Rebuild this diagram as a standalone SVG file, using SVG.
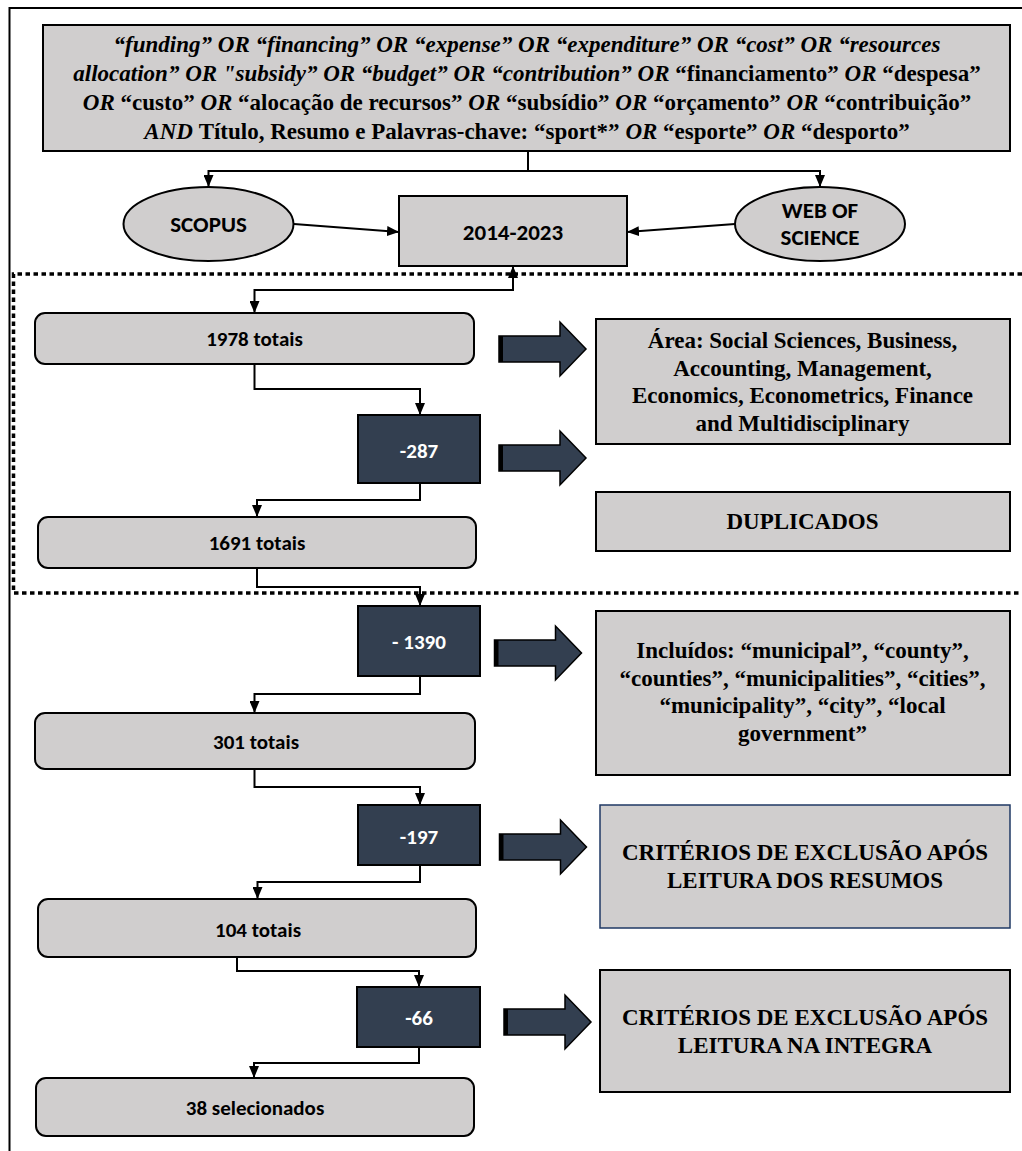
<svg xmlns="http://www.w3.org/2000/svg" width="1022" height="1151" viewBox="0 0 1022 1151">
<style>
.box{fill:#d0cece;stroke:#000;stroke-width:2}
.dk{fill:#333f50;stroke:#000;stroke-width:2}
.tnr{font-family:"Liberation Serif","Times New Roman",serif;font-weight:bold;font-size:23px;fill:#000;text-anchor:middle}
.cal{font-family:Carlito,Calibri,Lato,"Liberation Sans",sans-serif;font-weight:bold;font-size:21px;fill:#000;text-anchor:middle}
.big{font-size:23px}
.w{fill:#fff}
.i{font-style:italic}
.con{fill:none;stroke:#000;stroke-width:2}
.frame{fill:none;stroke:#000;stroke-width:2}
.dot{fill:none;stroke:#000;stroke-width:3.5;stroke-dasharray:4.5 3.5}
</style>
<defs>
<marker id="ah" markerUnits="userSpaceOnUse" viewBox="0 0 12 10" refX="12" refY="5" markerWidth="12" markerHeight="10" orient="auto-start-reverse"><path d="M0,0 L12,5 L0,10 Z" fill="#000"/></marker>
<g id="bigarrow"><path d="M0,-13 H61 V-27 L87,0 L61,27 V13 H0 Z" fill="#333f50" stroke="#000" stroke-width="1.5"/><rect x="0" y="-13" width="4" height="26" fill="#000"/></g>
</defs>

<path class="frame" d="M1022,8 H9.5 V1151"/>
<path class="dot" d="M1022,274 H13.5 V593 H1022"/>

<g id="connectors">
<path class="con" d="M528,151 V171 H208.5 V187" marker-end="url(#ah)"/>
<path class="con" d="M528,171 H820 V187" marker-end="url(#ah)"/>
<path class="con" d="M294,224 L399,232" marker-end="url(#ah)"/>
<path class="con" d="M735,224 L627,232" marker-end="url(#ah)"/>
<path class="con" d="M513,266 V290 H254.5 V313" marker-start="url(#ah)" marker-end="url(#ah)"/>
<path class="con" d="M254.5,364 V389 H420 V415" marker-end="url(#ah)"/>
<path class="con" d="M420,483 V500 H257 V517" marker-end="url(#ah)"/>
<path class="con" d="M257,568 V587 H420 V606" marker-end="url(#ah)"/>
<path class="con" d="M420,676 V694 H254.5 V713" marker-end="url(#ah)"/>
<path class="con" d="M254.5,769 V787 H420 V805" marker-end="url(#ah)"/>
<path class="con" d="M420,865 V882 H257.5 V899" marker-end="url(#ah)"/>
<path class="con" d="M237,957 V971 H419 V987" marker-end="url(#ah)"/>
<path class="con" d="M419,1047 V1063 H254 V1078" marker-end="url(#ah)"/>
<use href="#bigarrow" transform="translate(499,349)"/>
<use href="#bigarrow" transform="translate(499,458)"/>
<use href="#bigarrow" transform="translate(494.5,653)"/>
<use href="#bigarrow" transform="translate(499.5,847)"/>
<use href="#bigarrow" transform="translate(504,1022)"/>
</g>

<g id="query">
<rect class="box" x="43" y="25" width="967" height="126"/>
<text class="tnr" x="527" y="52"><tspan class="i">“funding” OR “financing” OR “expense” OR “expenditure” OR “cost” OR “resources</tspan></text>
<text class="tnr" x="527" y="81"><tspan class="i">allocation” OR "subsidy” OR “budget” OR “contribution” OR </tspan><tspan>“financiamento” </tspan><tspan class="i">OR </tspan><tspan>“despesa”</tspan></text>
<text class="tnr" x="527" y="110"><tspan class="i">OR </tspan><tspan>“custo” </tspan><tspan class="i">OR </tspan><tspan>“alocação de recursos” </tspan><tspan class="i">OR </tspan><tspan>“subsídio” </tspan><tspan class="i">OR </tspan><tspan>“orçamento” </tspan><tspan class="i">OR </tspan><tspan>“contribuição”</tspan></text>
<text class="tnr" x="527" y="139"><tspan class="i">AND </tspan><tspan>Título, Resumo e Palavras-chave: “sport*” </tspan><tspan class="i">OR </tspan><tspan>“esporte” </tspan><tspan class="i">OR </tspan><tspan>“desporto”</tspan></text>
</g>

<g id="scopus">
<ellipse class="box" cx="208.5" cy="224" rx="85" ry="37"/>
<text class="cal big" x="208.5" y="232">SCOPUS</text>
</g>
<g id="wos">
<ellipse class="box" cx="820" cy="224" rx="85" ry="37"/>
<text class="cal big" x="820" y="218">WEB OF</text>
<text class="cal big" x="820" y="245">SCIENCE</text>
</g>
<g id="period">
<rect class="box" x="399" y="196" width="228" height="70"/>
<text class="cal big" x="513" y="240">2014-2023</text>
</g>

<g id="n1978">
<rect class="box" x="35" y="313" width="439" height="51" rx="10"/>
<text class="cal" x="254.5" y="346">1978 totais</text>
</g>
<g id="m287">
<rect class="dk" x="358" y="415" width="122" height="68"/>
<text class="cal w" x="419" y="458">-287</text>
</g>
<g id="n1691">
<rect class="box" x="38" y="517" width="438" height="51" rx="10"/>
<text class="cal" x="257" y="550">1691 totais</text>
</g>
<g id="m1390">
<rect class="dk" x="358" y="606" width="122" height="70"/>
<text class="cal w" x="419" y="649">- 1390</text>
</g>
<g id="n301">
<rect class="box" x="35" y="713" width="440" height="56" rx="10"/>
<text class="cal" x="256" y="748.5">301 totais</text>
</g>
<g id="m197">
<rect class="dk" x="358" y="805" width="122" height="60"/>
<text class="cal w" x="419" y="844">-197</text>
</g>
<g id="n104">
<rect class="box" x="38" y="899" width="438" height="58" rx="10"/>
<text class="cal" x="258" y="937">104 totais</text>
</g>
<g id="m66">
<rect class="dk" x="357" y="987" width="123" height="60"/>
<text class="cal w" x="419" y="1025">-66</text>
</g>
<g id="n38">
<rect class="box" x="36" y="1078" width="438" height="58" rx="10"/>
<text class="cal" x="255" y="1115">38 selecionados</text>
</g>

<g id="area">
<rect class="box" x="596" y="319" width="414" height="125"/>
<text class="tnr" x="802.5" y="348">Área: Social Sciences, Business,</text>
<text class="tnr" x="802.5" y="376">Accounting, Management,</text>
<text class="tnr" x="802.5" y="403">Economics, Econometrics, Finance</text>
<text class="tnr" x="802.5" y="431">and Multidisciplinary</text>
</g>
<g id="dup">
<rect class="box" x="596" y="492" width="414" height="59"/>
<text class="tnr" x="802.5" y="529">DUPLICADOS</text>
</g>
<g id="incl">
<rect class="box" x="596" y="611" width="414" height="164"/>
<text class="tnr" x="802.5" y="658">Incluídos: “municipal”, “county”,</text>
<text class="tnr" x="802.5" y="686">“counties”, “municipalities”, “cities”,</text>
<text class="tnr" x="802.5" y="713">“municipality”, “city”, “local</text>
<text class="tnr" x="802.5" y="741">government”</text>
</g>
<g id="crit1">
<rect class="box" x="600" y="805" width="410" height="123" style="stroke:#1f3864;stroke-width:1.5"/>
<text class="tnr" x="805" y="860">CRITÉRIOS DE EXCLUSÃO APÓS</text>
<text class="tnr" x="805" y="888">LEITURA DOS RESUMOS</text>
</g>
<g id="crit2">
<rect class="box" x="600" y="970" width="410" height="122"/>
<text class="tnr" x="805" y="1025">CRITÉRIOS DE EXCLUSÃO APÓS</text>
<text class="tnr" x="805" y="1053">LEITURA NA INTEGRA</text>
</g>
</svg>
